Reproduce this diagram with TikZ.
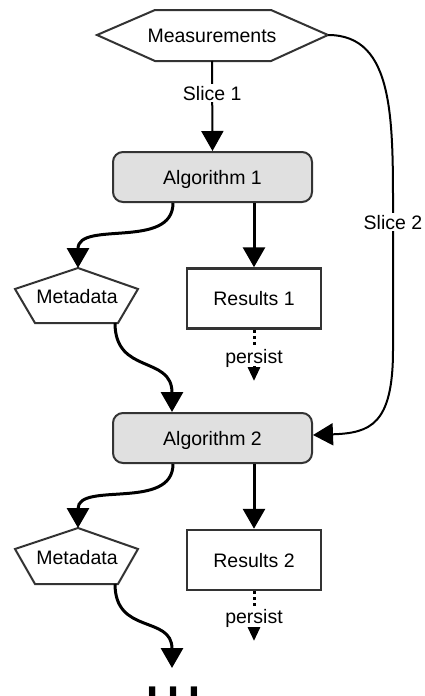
\documentclass[tikz,border=0pt]{standalone}
\usepackage{fontspec}
\setmainfont{Liberation Sans}
\usetikzlibrary{arrows.meta}
\definecolor{edgegray}{HTML}{333333}
\definecolor{boxfill}{HTML}{E0E0E0}
\begin{document}
\begin{tikzpicture}[x=1pt,y=-1pt,
  txt/.style={font=\fontsize{19.5}{23}\selectfont, text height=14pt, text depth=0pt, inner sep=0pt},
  algbox/.style={txt, draw=edgegray, line width=2pt, fill=boxfill, rounded corners=10pt, minimum width=199pt, minimum height=50pt},
  resbox/.style={txt, draw=edgegray, line width=2.5pt, fill=white, minimum width=134pt, minimum height=60pt},
  shapeline/.style={draw=edgegray, line width=2pt, fill=white, line join=miter},
  flow/.style={line width=3pt, -{Triangle[width=22pt,length=20pt]}},
  slice/.style={line width=2pt, -{Triangle[width=22pt,length=20pt]}},
  persistline/.style={line width=3pt, dash pattern=on 3pt off 3pt, -{Triangle[width=12pt,length=14pt]}},
  lbl/.style={txt, fill=white, inner sep=2pt}
]
\useasboundingbox (0,0) rectangle (425,696);

% Measurements hexagon
\draw[shapeline] (97,35) -- (155,10) -- (271,10) -- (328,35) -- (271,61) -- (155,61) -- cycle;
\node[txt] (meas) at (212,35) {Measurements};
\coordinate (measS) at (212,61);
\coordinate (measE) at (328,35);

% Algorithm boxes
\node[algbox] (alg1) at (212.5,177) {Algorithm 1};
\node[algbox] (alg2) at (212.5,438) {Algorithm 2};

% Results boxes
\node[resbox] (res1) at (254,298.5) {Results 1};
\node[resbox] (res2) at (254,560) {Results 2};

% Metadata pentagons
\draw[shapeline] (78,268) -- (138,289) -- (118,323) -- (35,323) -- (15,289) -- cycle;
\node[txt] (meta1) at (77,296) {Metadata};
\coordinate (meta1top) at (78,268);
\coordinate (meta1bot) at (115,323);

\draw[shapeline] (78,528) -- (138,549) -- (118,584) -- (35,584) -- (15,549) -- cycle;
\node[txt] (meta2) at (77,557) {Metadata};
\coordinate (meta2top) at (78,528);
\coordinate (meta2bot) at (115,584);

% Slice 1
\draw[slice] (measS) -- node[lbl, pos=0.36] (s1) {Slice 1} (alg1.north);

% Slice 2
\draw[slice] (measE) .. controls (395,35) and (393,120) .. (393,220)
  -- (393,350) .. controls (393,425) and (370,433) .. ([yshift=3pt]alg2.east);
\node[lbl] (s2) at (393,222) {Slice 2};

% Algorithm 1 outputs
\draw[flow] ([xshift=-39.5pt]alg1.south) .. controls (173,250) and (78,220) .. (meta1top);
\draw[flow] (res1.north |- alg1.south) -- (res1.north);

% Metadata 1 -> Algorithm 2
\draw[flow] (meta1bot) .. controls (115,375) and (172,355) .. ([xshift=-40.5pt]alg2.north);

% Algorithm 2 outputs
\draw[flow] ([xshift=-39.5pt]alg2.south) .. controls (173,511) and (78,481) .. (meta2top);
\draw[flow] (res2.north |- alg2.south) -- (res2.north);

% Metadata 2 -> more
\coordinate (moreN) at (172,668);
\draw[flow] (meta2bot) .. controls (115,635) and (172,615) .. (moreN);
\node[font=\fontsize{66}{66}\selectfont, anchor=base, yscale=1.5, inner sep=0pt] (more) at (173,697) {…};

% persist
\coordinate (p1) at (254,381);
\draw[persistline] (res1.south) -- (p1);
\node[lbl] (pl1) at (254,356) {persist};
\coordinate (p2) at (254,641);
\draw[persistline] (res2.south) -- (p2);
\node[lbl] (pl2) at (254,616) {persist};
\end{tikzpicture}
\end{document}
